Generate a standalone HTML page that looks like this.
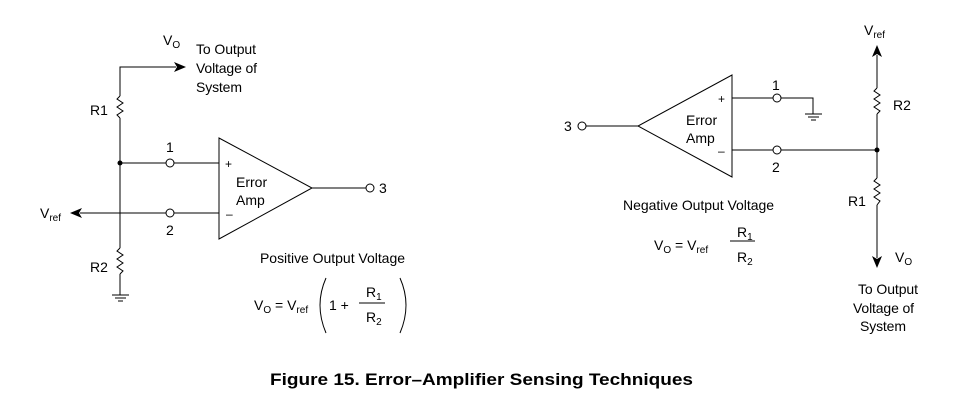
<!DOCTYPE html>
<html><head><meta charset="utf-8"><style>html,body{margin:0;padding:0;background:#fff}svg{display:block}</style></head>
<body>
<svg width="953" height="407" viewBox="0 0 953 407" xmlns="http://www.w3.org/2000/svg" font-family="Liberation Sans, sans-serif" font-size="14" fill="#000">
<g stroke="#000" stroke-width="1" fill="none">
<!-- LEFT -->
<polyline points="120,96 120,67 176,67"/>
<polyline points="120,96 117,99 123,103 117,107 123,111 117,115 120,118"/>
<line x1="120" y1="118" x2="120" y2="248"/>
<polyline points="120,248 117,251 123,255 117,259 123,263 117,267 123,271 120,274"/>
<line x1="120" y1="274" x2="120" y2="295"/>
<line x1="112" y1="295" x2="129" y2="295"/><line x1="115" y1="298" x2="126" y2="298"/><line x1="118" y1="301" x2="123" y2="301"/>
<line x1="120" y1="163" x2="166" y2="163"/><line x1="174" y1="163" x2="219" y2="163"/>
<line x1="80" y1="213" x2="166" y2="213"/><line x1="174" y1="213" x2="219" y2="213"/>
<circle cx="170" cy="163" r="4"/><circle cx="170" cy="213" r="4"/>
<polygon points="219,138 219,239 312,188"/>
<line x1="312" y1="188" x2="366" y2="188"/><circle cx="370" cy="188" r="4"/>
<path d="M326,278 Q314,305 326,333"/><path d="M400,278 Q412,305 400,333"/>
<line x1="359" y1="303" x2="385" y2="303"/>
<!-- RIGHT -->
<polygon points="732,75 732,177 638,126"/>
<circle cx="582" cy="126" r="4"/><line x1="586" y1="126" x2="638" y2="126"/>
<line x1="732" y1="98" x2="773" y2="98"/><circle cx="777" cy="98" r="4"/>
<polyline points="781,98 813,98 813,114"/>
<line x1="805" y1="114" x2="822" y2="114"/><line x1="808" y1="117" x2="819" y2="117"/><line x1="811" y1="120" x2="816" y2="120"/>
<line x1="732" y1="150" x2="773" y2="150"/><circle cx="777" cy="150" r="4"/><line x1="781" y1="150" x2="877" y2="150"/>
<line x1="877" y1="55" x2="877" y2="88"/>
<polyline points="877,88 874,91 880,95 874,99 880,103 874,107 880,111 877,114"/>
<line x1="877" y1="114" x2="877" y2="178"/>
<polyline points="877,178 874,181 880,185 874,189 880,193 874,197 880,201 877,205"/>
<line x1="877" y1="205" x2="877" y2="258"/>
<line x1="730" y1="241" x2="755" y2="241"/>
</g>
<circle cx="120" cy="163" r="2.5"/><circle cx="877" cy="150" r="2.5"/>
<polygon points="186,67 174,62 177,67 174,72"/>
<polygon points="70,213 82,208 79,213 82,218"/>
<polygon points="877,45 872,57 877,54 882,57"/>
<polygon points="877,268 872,256 877,259 882,256"/>
<g font-size="14">
<text x="163" y="45">V<tspan font-size="10" dy="3">O</tspan></text>
<text x="196" y="54" textLength="60">To Output</text>
<text x="196" y="73" textLength="61">Voltage of</text>
<text x="196" y="92" textLength="46">System</text>
<text x="90" y="115">R1</text><text x="90" y="272">R2</text>
<text x="166" y="152">1</text><text x="166" y="235">2</text>
<text x="225" y="168" font-size="12">+</text><text x="226" y="218" font-size="12">–</text>
<text x="236" y="187">Error</text><text x="236" y="205">Amp</text>
<text x="379" y="193">3</text>
<text x="40" y="218">V<tspan font-size="10" dy="3">ref</tspan></text>
<text x="260" y="263" textLength="145">Positive Output Voltage</text>
<text x="254" y="310">V<tspan font-size="10" dy="3">O</tspan><tspan dy="-3"> = V</tspan><tspan font-size="10" dy="3">ref</tspan></text>
<text x="329" y="310">1 +</text>
<text x="366" y="297">R<tspan font-size="10" dy="3">1</tspan></text>
<text x="366" y="322">R<tspan font-size="10" dy="3">2</tspan></text>
<text x="864" y="35">V<tspan font-size="10" dy="3">ref</tspan></text>
<text x="893" y="110">R2</text><text x="848" y="206">R1</text>
<text x="895" y="262">V<tspan font-size="10" dy="3">O</tspan></text>
<text x="858" y="294" textLength="60">To Output</text>
<text x="853" y="313" textLength="61">Voltage of</text>
<text x="860" y="331" textLength="46">System</text>
<text x="564" y="131">3</text>
<text x="772" y="90">1</text><text x="772" y="172">2</text>
<text x="718" y="103" font-size="12">+</text><text x="718" y="155" font-size="12">–</text>
<text x="686" y="125">Error</text><text x="686" y="143">Amp</text>
<text x="623" y="210" textLength="151">Negative Output Voltage</text>
<text x="654" y="250">V<tspan font-size="10" dy="3">O</tspan><tspan dy="-3"> = V</tspan><tspan font-size="10" dy="3">ref</tspan></text>
<text x="737" y="237">R<tspan font-size="10" dy="3">1</tspan></text>
<text x="737" y="262">R<tspan font-size="10" dy="3">2</tspan></text>
</g>
<text x="270" y="385" font-size="17" font-weight="bold" textLength="423" lengthAdjust="spacingAndGlyphs">Figure 15. Error–Amplifier Sensing Techniques</text>
</svg>
</body></html>
